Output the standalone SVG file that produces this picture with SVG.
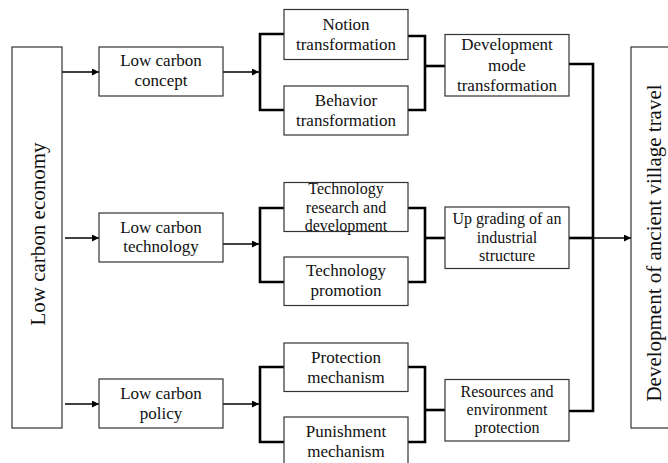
<svg xmlns="http://www.w3.org/2000/svg" width="668" height="463" viewBox="0 0 668 463">
<defs>
<marker id="ah" viewBox="0 0 10 10" refX="10" refY="5" markerWidth="7" markerHeight="7" markerUnits="userSpaceOnUse" orient="auto">
<path d="M0,0 L10,5 L0,10 z" fill="#000"/>
</marker>
<style>
.box{fill:#fff;stroke:#333;stroke-width:1.2}
.t{font-family:"Liberation Serif","Times New Roman",serif;font-size:17px;fill:#111;text-anchor:middle}
.s{font-size:16px}
.big{font-size:21px}
.thin{fill:none;stroke:#000;stroke-width:1.5}
.thick{fill:none;stroke:#000;stroke-width:2.6}
</style>
</defs>
<rect width="668" height="463" fill="#fff"/>

<g id="connectors">
<line class="thin" x1="60" y1="72" x2="99" y2="72" marker-end="url(#ah)"/>
<line class="thin" x1="65" y1="238" x2="99" y2="238" marker-end="url(#ah)"/>
<line class="thin" x1="65" y1="404" x2="99" y2="404" marker-end="url(#ah)"/>
<line class="thin" x1="223" y1="72" x2="259" y2="72" marker-end="url(#ah)"/>
<line class="thin" x1="223" y1="244" x2="259" y2="244" marker-end="url(#ah)"/>
<line class="thin" x1="223" y1="404" x2="259" y2="404" marker-end="url(#ah)"/>
<path class="thick" d="M284,34 H260 V110 H284"/>
<path class="thick" d="M408,36 H425 V110 H408"/>
<line class="thick" x1="425" y1="66" x2="445" y2="66"/>
<path class="thick" d="M284,208 H260 V282 H284"/>
<path class="thick" d="M408,208 H425 V282 H408"/>
<line class="thick" x1="425" y1="238" x2="445" y2="238"/>
<path class="thick" d="M284,367 H260 V442 H284"/>
<path class="thick" d="M408,367 H425 V442 H408"/>
<line class="thick" x1="425" y1="410" x2="445" y2="410"/>
<path class="thick" d="M569,64 H593 V411 H569"/>
<line class="thick" x1="569" y1="238" x2="593" y2="238"/>
<line class="thin" x1="593" y1="238" x2="631" y2="238" marker-end="url(#ah)"/>
</g>

<g id="low-carbon-economy">
<rect class="box" x="12" y="47" width="50" height="381"/>
<text class="t big" transform="translate(45,234) rotate(-90)">Low carbon economy</text>
</g>

<g id="low-carbon-concept">
<rect class="box" x="99" y="47" width="124" height="49"/>
<text class="t" x="161" y="65.5">Low carbon</text>
<text class="t" x="161" y="86">concept</text>
</g>
<g id="low-carbon-technology">
<rect class="box" x="99" y="213" width="124" height="49"/>
<text class="t" x="161" y="233">Low carbon</text>
<text class="t" x="161" y="252">technology</text>
</g>
<g id="low-carbon-policy">
<rect class="box" x="99" y="379" width="124" height="49"/>
<text class="t" x="161" y="399">Low carbon</text>
<text class="t" x="161" y="418.5">policy</text>
</g>

<g id="notion-transformation">
<rect class="box" x="284" y="9.5" width="124" height="50"/>
<text class="t" x="346" y="29.5">Notion</text>
<text class="t" x="346" y="50">transformation</text>
</g>
<g id="behavior-transformation">
<rect class="box" x="284" y="86" width="124" height="49"/>
<text class="t" x="346" y="106">Behavior</text>
<text class="t" x="346" y="126">transformation</text>
</g>
<g id="technology-rd">
<rect class="box" x="284" y="182.5" width="124" height="49"/>
<text class="t s" x="346" y="193.5">Technology</text>
<text class="t s" x="346" y="212.5">research and</text>
<text class="t s" x="346" y="231">development</text>
</g>
<g id="technology-promotion">
<rect class="box" x="284" y="257" width="124" height="48.5"/>
<text class="t" x="346" y="276">Technology</text>
<text class="t" x="346" y="296">promotion</text>
</g>
<g id="protection-mechanism">
<rect class="box" x="284" y="343" width="124" height="48.5"/>
<text class="t" x="346" y="362.5">Protection</text>
<text class="t" x="346" y="382.5">mechanism</text>
</g>
<g id="punishment-mechanism">
<rect class="box" x="284" y="417" width="124" height="50"/>
<text class="t" x="346" y="437">Punishment</text>
<text class="t" x="346" y="456.5">mechanism</text>
</g>

<g id="development-mode-transformation">
<rect class="box" x="445" y="34.5" width="124" height="61.5"/>
<text class="t" x="507" y="49.5">Development</text>
<text class="t" x="507" y="70.5">mode</text>
<text class="t" x="507" y="91">transformation</text>
</g>
<g id="upgrading-industrial-structure">
<rect class="box" x="445" y="207" width="124" height="61.5"/>
<text class="t s" x="507" y="224">Up grading of an</text>
<text class="t s" x="507" y="242.5">industrial</text>
<text class="t s" x="507" y="260.5">structure</text>
</g>
<g id="resources-environment-protection">
<rect class="box" x="445" y="379.5" width="124" height="61.5"/>
<text class="t s" x="507" y="396.5">Resources and</text>
<text class="t s" x="507" y="415">environment</text>
<text class="t s" x="507" y="433">protection</text>
</g>

<g id="development-ancient-village-travel">
<rect class="box" x="631" y="47" width="60" height="381"/>
<text class="t big" transform="translate(661,243) rotate(-90)">Development of ancient village travel</text>
</g>
</svg>
